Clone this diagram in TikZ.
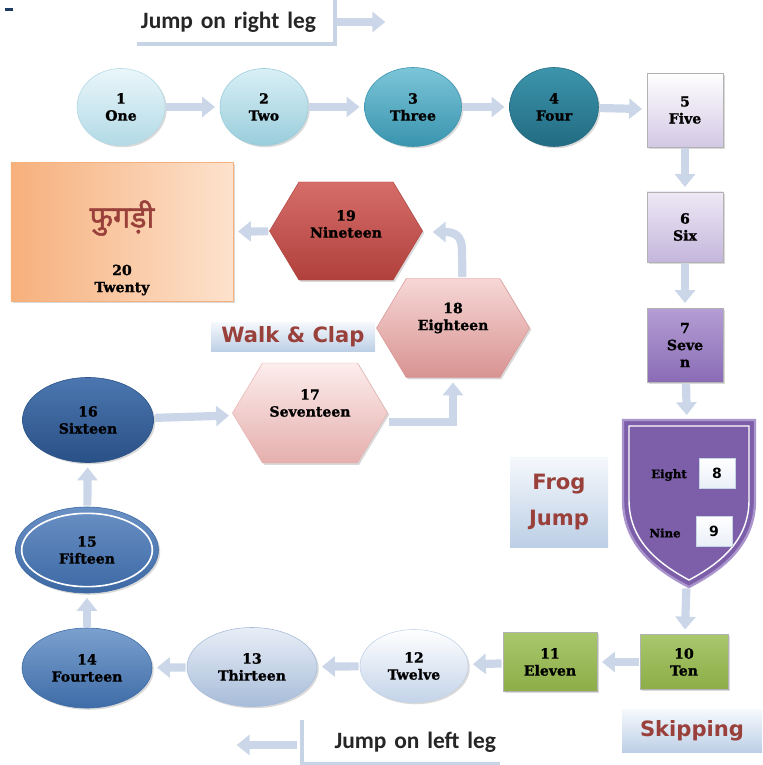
\documentclass[tikz,border=0pt]{standalone}
\usepackage{fontspec}
\setmainfont{DejaVu Serif}[BoldFeatures={FakeBold=1.2}]
\newfontfamily\labelfont{Carlito}
\newfontfamily\tagfont{DejaVu Sans}
\newfontfamily\devfont[Script=Devanagari,FakeBold=1.5]{Noto Sans}
\usetikzlibrary{arrows.meta,shapes.geometric,shapes.symbols,shadows}

\definecolor{markblue}{HTML}{1F3A5F}
\definecolor{arrowfill}{HTML}{CBD7E8}
\definecolor{legline}{HTML}{C7D4E6}
\definecolor{tagred}{HTML}{99403B}
\definecolor{tagt}{HTML}{F5F8FC}
\definecolor{tagb}{HTML}{BCCFE6}
\definecolor{c1t}{HTML}{EAF6FA}\definecolor{c1b}{HTML}{B2DAE6}
\definecolor{c2t}{HTML}{D9EFF5}\definecolor{c2b}{HTML}{99CDDC}
\definecolor{c3t}{HTML}{7CC5D8}\definecolor{c3b}{HTML}{3994AE}
\definecolor{c4t}{HTML}{3C95AC}\definecolor{c4b}{HTML}{226B82}
\definecolor{c5t}{HTML}{FFFFFF}\definecolor{c5b}{HTML}{D3C8E4}
\definecolor{c6t}{HTML}{EEE9F5}\definecolor{c6b}{HTML}{C4B6DC}
\definecolor{c7t}{HTML}{B49ED4}\definecolor{c7b}{HTML}{8A6CB5}
\definecolor{shieldfill}{HTML}{7D5FA9}
\definecolor{shieldedge}{HTML}{A994CC}
\definecolor{c10t}{HTML}{A9C76D}\definecolor{c10b}{HTML}{8CAD47}
\definecolor{c12t}{HTML}{FFFFFF}\definecolor{c12b}{HTML}{C3D3E9}
\definecolor{c13t}{HTML}{E8EEF7}\definecolor{c13b}{HTML}{A7BCD9}
\definecolor{c14t}{HTML}{7BA0CE}\definecolor{c14b}{HTML}{3E6CA7}
\definecolor{c15t}{HTML}{6B91C5}\definecolor{c15b}{HTML}{3C68A4}
\definecolor{c16t}{HTML}{4B76AF}\definecolor{c16b}{HTML}{2A5187}
\definecolor{c17t}{HTML}{FCEDEC}\definecolor{c17b}{HTML}{E5AFAD}
\definecolor{c18t}{HTML}{F6D7D6}\definecolor{c18b}{HTML}{D89391}
\definecolor{c19t}{HTML}{D66D69}\definecolor{c19b}{HTML}{B0403C}
\definecolor{c20l}{HTML}{F6B07C}\definecolor{c20r}{HTML}{FDE2CD}

\begin{document}
\begin{tikzpicture}[x=0.03cm, y=0.03cm,
  num/.style={font=\bfseries\fontsize{12}{14.5}\selectfont, align=center, text=black, inner sep=1pt},
  shade3d/.style={drop shadow={opacity=0.3, shadow xshift=1.5pt, shadow yshift=-1.5pt}},
  oval/.style={ellipse, num, shade3d, inner sep=0pt, line width=0.5pt},
  box/.style={rectangle, num, shade3d, draw=white!70!black, line width=0.5pt},
  hexa/.style={signal, signal to=west and east, signal pointer angle=118, shade3d, inner sep=0pt},
  digitbox/.style={rectangle, top color=white, bottom color=tagt!80!tagb, draw=legline, minimum width=1.08cm, minimum height=0.9cm, font=\tagfont\bfseries\fontsize{12}{14}\selectfont},
  flow/.style={color=arrowfill, line width=7pt, -{Triangle[length=11pt, width=17pt]}, shorten <=1pt, shorten >=4pt},
  tag/.style={font=\tagfont\bfseries\fontsize{18}{24}\selectfont, text=tagred, align=center, top color=tagt, bottom color=tagb},
  legbox/.style={font=\labelfont\bfseries\fontsize{20}{24}\selectfont, text=black!85, fill=white, inner xsep=3pt},
  legedge/.style={draw=legline, line width=3pt}]
\useasboundingbox (0,0) rectangle (762,-765);
\fill[markblue] (5,-8) rectangle (13,-11);

\node[legbox, text width=5.7cm, minimum height=1.32cm, align=left] (RightLeg) at (236,-22) {Jump on right leg};
\draw[legedge] (RightLeg.north east) -- (RightLeg.south east) -- (RightLeg.south west);
\coordinate (RightTail) at (336,-22);
\coordinate (RightHead) at (390,-22);

\node[oval, top color=c1t, bottom color=c1b, draw=c1b, minimum width=2.64cm, minimum height=2.31cm] (N1) at (121,-107) {1\\One};
\node[oval, top color=c2t, bottom color=c2b, draw=c2b, minimum width=2.64cm, minimum height=2.31cm] (N2) at (264,-107) {2\\Two};
\node[oval, top color=c3t, bottom color=c3b, draw=c3b, minimum width=2.91cm, minimum height=2.37cm] (N3) at (413,-107) {3\\Three};
\node[oval, top color=c4t, bottom color=c4b, draw=c4b, minimum width=2.67cm, minimum height=2.37cm] (N4) at (554,-107) {4\\Four};
\node[box, top color=c5t, bottom color=c5b, minimum width=2.28cm, minimum height=2.22cm] (N5) at (685,-110) {5\\Five};
\node[box, top color=c6t, bottom color=c6b, minimum width=2.28cm, minimum height=2.1cm] (N6) at (685,-227) {6\\Six};
\node[box, top color=c7t, bottom color=c7b, minimum width=2.28cm, minimum height=2.22cm] (N7) at (685,-345) {7\\Seve\\n};

\node[minimum width=3.99cm, minimum height=5.01cm, inner sep=0pt] (N89) at (689,-503.5) {};
\filldraw[fill=shieldfill, draw=shieldedge, line width=2pt] (623,-420) -- (755,-420) -- (755,-500) .. controls (755,-545) and (722,-570) .. (689,-587) .. controls (656,-570) and (623,-545) .. (623,-500) -- cycle;
\draw[white, line width=1.2pt] (629,-426) -- (749,-426) -- (749,-500) .. controls (749,-541) and (719,-564) .. (689,-580) .. controls (659,-564) and (629,-541) .. (629,-500) -- cycle;
\node[font=\bfseries\fontsize{10}{12}\selectfont] (Eight) at (669,-475) {Eight};
\node[digitbox] (N8) at (717,-473) {8};
\node[font=\bfseries\fontsize{10}{12}\selectfont] (Nine) at (665,-533) {Nine};
\node[digitbox] (N9) at (714,-531) {9};

\node[box, top color=c10t, bottom color=c10b, minimum width=2.64cm, minimum height=1.65cm] (N10) at (684,-662) {10\\Ten};
\node[box, top color=c10t, bottom color=c10b, minimum width=2.82cm, minimum height=1.77cm] (N11) at (550,-662) {11\\Eleven};
\node[oval, top color=c12t, bottom color=c12b, draw=c12b, minimum width=3.24cm, minimum height=2.19cm] (N12) at (414,-666) {12\\Twelve};
\node[oval, top color=c13t, bottom color=c13b, draw=c13b, minimum width=3.9cm, minimum height=2.37cm] (N13) at (252,-667) {13\\Thirteen};
\node[oval, top color=c14t, bottom color=c14b, draw=c14b, minimum width=3.9cm, minimum height=2.4cm] (N14) at (87,-668) {14\\Fourteen};
\node[oval, top color=c15t, bottom color=c15b, draw=c15b, minimum width=4.29cm, minimum height=2.58cm,
  path picture={\draw[white, line width=1.4pt] (path picture bounding box.center) ellipse [x radius=1.96cm, y radius=1.1cm];}] (N15) at (87,-550) {15\\Fifteen};
\node[oval, top color=c16t, bottom color=c16b, draw=c16b, minimum width=3.93cm, minimum height=2.55cm] (N16) at (88,-420) {16\\Sixteen};

\node[hexa, top color=c17t, bottom color=c17b, draw=c17b, minimum width=4.65cm, minimum height=3cm] (N17) at (310,-413) {};
\node[num] (T17) at (310,-403) {17\\Seventeen};
\node[hexa, top color=c18t, bottom color=c18b, draw=c18b, minimum width=4.59cm, minimum height=2.97cm] (N18) at (453,-328) {};
\node[num] (T18) at (453,-318) {18\\Eighteen};
\node[hexa, top color=c19t, bottom color=c19b, draw=c19b, minimum width=4.59cm, minimum height=2.94cm] (N19) at (346,-231) {};
\node[num] (T19) at (346,-224) {19\\Nineteen};
\coordinate (Turn19) at (428,-232);

\node[box, left color=c20l, right color=c20r, draw=c20l, minimum width=6.66cm, minimum height=4.17cm] (N20) at (122,-232) {};
\node[font=\devfont\fontsize{26}{30}\selectfont, text=tagred] (Fugdi) at (122,-218) {फुगड़ी};
\node[num] (T20) at (122,-280) {20\\Twenty};

\node[tag, minimum width=4.92cm, minimum height=0.87cm] (WalkClap) at (293,-337) {Walk \& Clap};
\node[tag, minimum width=2.94cm, minimum height=2.7cm] (FrogJump) at (559,-502) {Frog\\[6pt]Jump};
\node[tag, minimum width=4.2cm, minimum height=1.29cm] (Skipping) at (692,-731) {Skipping};

\node[legbox, text width=5.7cm, minimum height=1.29cm, align=right] (LeftLeg) at (401,-742) {Jump on left leg};
\draw[legedge] (LeftLeg.north west) -- (LeftLeg.south west) -- (LeftLeg.south east);
\coordinate (LeftTail) at (298,-745);
\coordinate (LeftHead) at (232,-745);

\draw[flow] (RightTail) -- (RightHead);
\draw[flow] (N1) -- (N2);
\draw[flow] (N2) -- (N3);
\draw[flow] (N3) -- (N4);
\draw[flow] (N4) -- (N5);
\draw[flow] (N5) -- (N6);
\draw[flow] (N6) -- (N7);
\draw[flow] (N7) -- (N89);
\draw[flow] (N89) -- (N10);
\draw[flow] (N10) -- (N11);
\draw[flow] (N11) -- (N12);
\draw[flow] (N12) -- (N13);
\draw[flow] (N13) -- (N14);
\draw[flow] (N14) -- (N15);
\draw[flow] (N15) -- (N16);
\draw[flow] (N16) -- (N17);
\draw[flow] ([yshift=-8pt]N17.east) -| (N18.south);
\draw[flow] ([xshift=8pt]N18.north) -- (462,-250) .. controls (462,-236) and (455,-232) .. (Turn19);
\draw[flow] (N19) -- (N20);
\draw[flow] (LeftTail) -- (LeftHead);
\end{tikzpicture}
\end{document}
